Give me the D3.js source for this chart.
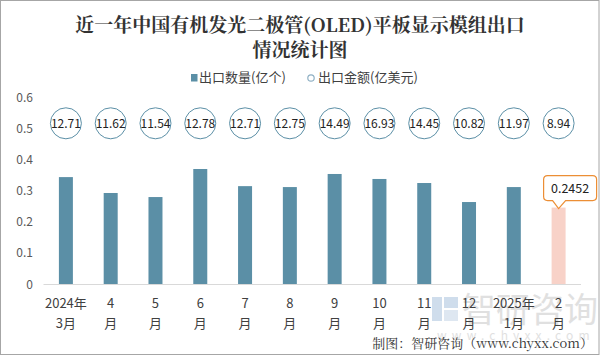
<!DOCTYPE html>
<html><head><meta charset="utf-8">
<script src="https://cdn.jsdelivr.net/npm/d3@7/dist/d3.min.js"></script>
<style>
html,body{margin:0;padding:0;background:#fff;}
svg{display:block;font-family:"Microsoft YaHei","Noto Sans CJK SC","Noto Sans",sans-serif;}
</style></head>
<body><svg id="c" width="602" height="356"></svg>
<script>
const labelLine1 = ["2024年","4","5","6","7","8","9","10","11","12","2025年","2"];
const labelLine2 = ["3月","月","月","月","月","月","月","月","月","月","1月","月"];
const quantities = [0.343,0.292,0.279,0.369,0.314,0.311,0.353,0.337,0.324,0.263,0.311,0.2452];
const amounts = [12.71,11.62,11.54,12.78,12.71,12.75,14.49,16.93,14.45,10.82,11.97,8.94];
const yTicks = [0,0.1,0.2,0.3,0.4,0.5,0.6];
const titleLines = ["近一年中国有机发光二极管(OLED)平板显示模组出口","情况统计图"];
const legendNames = ["出口数量(亿个)","出口金额(亿美元)"];
const highlightIndex = 11;

const svg = d3.select("#c");
const barColor = "#5b8fa6", hiColor = "#f8d2c8", circColor = "#5b8fa6";

svg.append("rect").attr("x",0.5).attr("y",0.5).attr("width",598.5).attr("height",354)
  .attr("fill","#fff").attr("stroke","#a6a6a6");

// watermark
const wm = svg.append("g").attr("opacity",0.55);
wm.append("rect").attr("x",432).attr("y",297).attr("width",10).attr("height",24).attr("fill","#a9c3dd");
wm.append("rect").attr("x",444).attr("y",297).attr("width",14).attr("height",11).attr("fill","#a9c3dd");
wm.append("rect").attr("x",444).attr("y",310).attr("width",14).attr("height",11).attr("fill","#c4d5e6");
wm.append("text").attr("x",462).attr("y",322).attr("font-size",34).attr("fill","#c8c8c8").text("智研咨询");
wm.append("text").attr("x",437).attr("y",340).attr("font-size",12).attr("letter-spacing",5.2).attr("fill","#c8c8c8").text("www.chyxx.com");

const x = d3.scaleBand().domain(d3.range(quantities.length)).range([43.5,581]).paddingInner(0.6875).paddingOuter(0.34375);
const y = d3.scaleLinear().domain([0,0.6]).range([284,97]);

// title
svg.append("g").selectAll("text").data(titleLines).join("text")
  .attr("x",300).attr("y",(d,i)=>32+i*25).attr("text-anchor","middle")
  .attr("font-size",19).attr("font-weight","bold").attr("fill","#333")
  .attr("font-family","'Noto Serif CJK SC','Noto Sans CJK SC',serif").text(d=>d);

// legend
svg.append("rect").attr("x",191).attr("y",74).attr("width",6.5).attr("height",7.5).attr("fill",barColor);
svg.append("text").attr("x",199).attr("y",82).attr("font-size",13).attr("fill","#404040").text(legendNames[0]);
svg.append("circle").attr("cx",311).attr("cy",78).attr("r",3.2).attr("fill","#fff").attr("stroke","#8fb0c4").attr("stroke-width",1.2);
svg.append("text").attr("x",318).attr("y",82).attr("font-size",13).attr("fill","#404040").text(legendNames[1]);

// y axis labels
svg.append("g").selectAll("text").data(yTicks).join("text")
  .attr("x",33).attr("y",d=>y(d)+4.5).attr("text-anchor","end")
  .attr("font-size",12).attr("fill","#595959").text(d=>d===0?"0":d3.format(".1f")(d));

// baseline
svg.append("line").attr("x1",43.5).attr("x2",581).attr("y1",284.5).attr("y2",284.5).attr("stroke","#d9d9d9");

// bars
svg.append("g").selectAll("rect").data(quantities).join("rect")
  .attr("x",(d,i)=>x(i)).attr("width",x.bandwidth())
  .attr("y",d=>y(d)).attr("height",d=>y(0)-y(d))
  .attr("fill",(d,i)=>i===highlightIndex?hiColor:barColor);

// amount circles
const cy = 123.3;
const cg = svg.append("g").selectAll("g").data(amounts).join("g")
  .attr("transform",(d,i)=>`translate(${x(i)+x.bandwidth()/2},${cy})`);
cg.append("circle").attr("r",15.5).attr("fill","#fff").attr("stroke",circColor).attr("stroke-width",1);
cg.append("text").attr("y",4.3).attr("text-anchor","middle").attr("font-size",12).attr("fill","#222").text(d=>d.toFixed(2));

// x labels
const xl = svg.append("g").selectAll("g").data(labelLine1).join("g")
  .attr("transform",(d,i)=>`translate(${x(i)+x.bandwidth()/2},0)`);
xl.append("text").attr("y",308).attr("text-anchor","middle").attr("font-size",13).attr("fill","#404040").text(d=>d);
xl.append("text").attr("y",328).attr("text-anchor","middle").attr("font-size",13).attr("fill","#404040").text((d,i)=>labelLine2[i]);

// callout
const hx = x(highlightIndex)+x.bandwidth()/2, hy = y(quantities[highlightIndex]);
const bx0 = hx-15, bx1 = hx+38, by0 = hy-32, by1 = hy-7, r = 4;
const p = `M${bx0+r},${by0} H${bx1-r} Q${bx1},${by0} ${bx1},${by0+r} V${by1-r} Q${bx1},${by1} ${bx1-r},${by1}
 H${hx+7} L${hx},${hy+1} L${hx-6},${by1} H${bx0+r} Q${bx0},${by1} ${bx0},${by1-r} V${by0+r} Q${bx0},${by0} ${bx0+r},${by0} Z`;
svg.append("path").attr("d",p).attr("fill","#fff").attr("stroke","#ec8e35").attr("stroke-width",1.2);
svg.append("text").attr("x",(bx0+bx1)/2).attr("y",(by0+by1)/2+4.5).attr("text-anchor","middle")
  .attr("font-size",12.5).attr("fill","#222").text(quantities[highlightIndex]);

// footer
svg.append("text").attr("x",593).attr("y",348).attr("text-anchor","end").attr("font-size",13).attr("fill","#333")
  .attr("font-family","'Noto Serif CJK SC','Noto Sans CJK SC','Liberation Mono',monospace").text("制图：智研咨询（www.chyxx.com）");
</script></body></html>
